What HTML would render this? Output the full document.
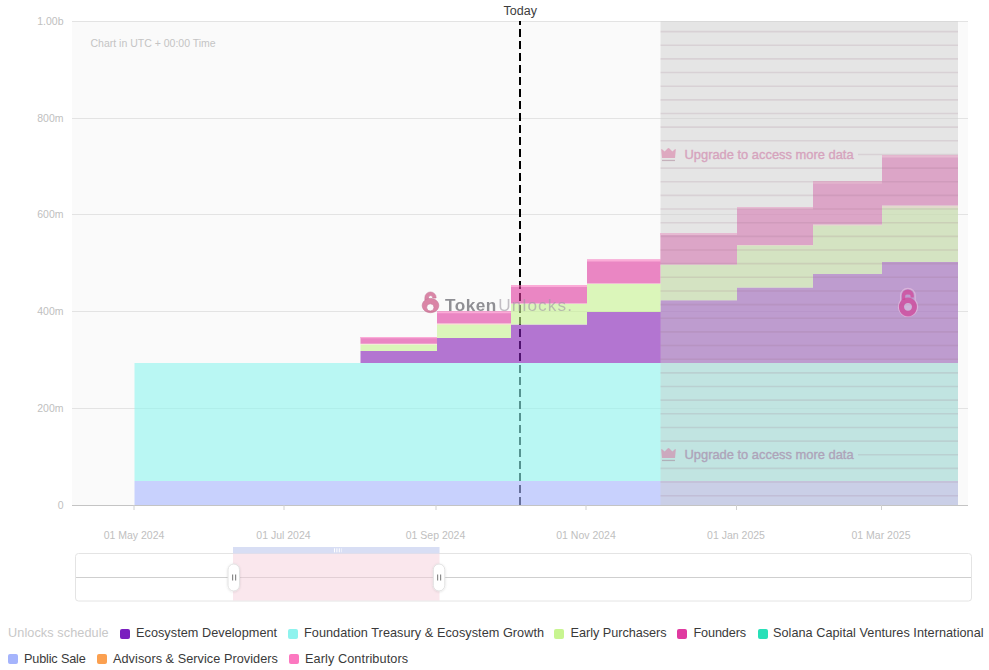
<!DOCTYPE html>
<html><head><meta charset="utf-8"><style>
html,body{margin:0;padding:0;background:#fff;width:989px;height:670px;overflow:hidden;font-family:"Liberation Sans",sans-serif;}
#c{position:absolute;left:0;top:0;}
.t{position:absolute;white-space:nowrap;line-height:1;}
.lg{position:absolute;white-space:nowrap;font-size:12.7px;color:#3a3a3a;line-height:1;}
.sw{position:absolute;width:10px;height:10px;border-radius:2px;}
</style></head><body>
<svg id="c" width="989" height="670" viewBox="0 0 989 670" font-family="Liberation Sans, sans-serif">
  <defs><filter id="hs" x="-50%" y="-30%" width="200%" height="160%"><feDropShadow dx="0" dy="0.5" stdDeviation="1.2" flood-color="#000" flood-opacity="0.13"/></filter></defs>
  <!-- plot bg -->
  <rect x="72" y="21" width="896" height="484" fill="#fafafa"/>
  <!-- gridlines -->
  <g stroke="#e3e3e3" stroke-width="1">
    <line x1="72" y1="21.5" x2="968" y2="21.5"/>
    <line x1="72" y1="118.5" x2="968" y2="118.5"/>
    <line x1="72" y1="214.5" x2="968" y2="214.5"/>
    <line x1="72" y1="311.5" x2="968" y2="311.5"/>
    <line x1="72" y1="408.5" x2="968" y2="408.5"/>
  </g>
  <!-- axis line -->
  <line x1="72" y1="505.5" x2="968" y2="505.5" stroke="#c4c4c4" stroke-width="1"/>
  <!-- today dashed line -->
  <line x1="520" y1="21" x2="520" y2="505" stroke="#000" stroke-width="2" stroke-dasharray="8 4" stroke-dashoffset="4"/>

  <!-- bars, opacity .6 -->
  <g opacity="0.6">
    <!-- public sale -->
    <rect x="134.5" y="481" width="823.5" height="24" fill="#a7b7ff"/>
    <!-- foundation -->
    <rect x="134.5" y="363" width="823.5" height="118" fill="#8ff6f0"/>
    <!-- ecosystem (purple) -->
    <path fill="#841db7" d="M360.5 363V351H437V338H511V324.5H587V312H660.5V300.2H737V287.5H813V274H882V262H958V363Z"/>
    <!-- early purchasers (green) -->
    <path fill="#c8f590" d="M360.5 351V344.5H437V325H511V304H587V284H660.5V265H737V246H813V226H882V208H958V262H882V274H813V287.5H737V300.2H660.5V312H587V324.5H511V338H437V351Z"/>
    <!-- advisors (peach) -->
    <path fill="#f3d6b0" d="M360.5 344.5V343.8H437V323.5H511V303.5H587V283.5H660.5V264.5H737V245H813V224.5H882V205.5H958V208H882V226H813V246H737V265H660.5V284H587V304H511V325H437V344.5Z"/>
    <!-- founders (pink) -->
    <path fill="#e03aa0" d="M360.5 343.8V337H437V311.3H511V285H587V259.5H660.5V233H737V207H813V181H882V155H958V205.5H882V224.5H813V245H737V264.5H660.5V283.5H587V303.5H511V323.5H437V343.8Z"/>
  <!-- early contributors -->
    <path fill="#fc78c0" d="M360.5 338.2V337H437V311.3H511V285H587V259.5H660.5V233H737V207H813V181H882V155H958V157.6H882V183.4H813V209.2H737V235H660.5V261.5H587V287H511V313.3H437V338.2H360.5Z"/>
  </g>

  <!-- watermark -->
  <g opacity="0.62">
    <g fill="#c73f74" fill-rule="evenodd" stroke="#a8285c" stroke-width="0.9" stroke-opacity="0.7">
      <path d="M424.9 300 V297.6 A5.6 5.6 0 0 1 436.1 297.6 V298 H432.8 V298 A2.2 2.4 0 0 0 428.4 298 V300 Z"/>
      <path d="M430.5 298.4 A8.3 7.15 0 1 1 430.49 298.4 Z M430.3 303.8 A3.6 3.6 0 1 0 430.31 303.8 Z"/>
    </g>
    <text x="445" y="310.6" font-size="17.2" font-weight="bold" letter-spacing="0.5" fill="#4e4e56">Token<tspan font-weight="normal" letter-spacing="1.1" fill="#a09aa4" dx="1.5">Unlocks.</tspan></text>
  </g>

  <!-- upgrade overlay -->
  <rect x="660.5" y="21" width="297.5" height="484" fill="rgb(205,203,203)" fill-opacity="0.45"/>
  <g id="hatch" stroke="rgb(150,105,128)" stroke-opacity="0.16" stroke-width="1.6">
<line x1="660.5" x2="958" y1="31.60" y2="31.60"/>
<line x1="660.5" x2="958" y1="45.25" y2="45.25"/>
<line x1="660.5" x2="958" y1="58.90" y2="58.90"/>
<line x1="660.5" x2="958" y1="72.55" y2="72.55"/>
<line x1="660.5" x2="958" y1="86.20" y2="86.20"/>
<line x1="660.5" x2="958" y1="99.85" y2="99.85"/>
<line x1="660.5" x2="958" y1="113.50" y2="113.50"/>
<line x1="660.5" x2="958" y1="127.15" y2="127.15"/>
<line x1="660.5" x2="958" y1="140.80" y2="140.80"/>
<line x1="858" x2="958" y1="154.45" y2="154.45"/>
<line x1="660.5" x2="958" y1="168.10" y2="168.10"/>
<line x1="660.5" x2="958" y1="181.75" y2="181.75"/>
<line x1="660.5" x2="958" y1="195.40" y2="195.40"/>
<line x1="660.5" x2="958" y1="209.05" y2="209.05"/>
<line x1="660.5" x2="958" y1="222.70" y2="222.70"/>
<line x1="660.5" x2="958" y1="236.35" y2="236.35"/>
<line x1="660.5" x2="958" y1="250.00" y2="250.00"/>
<line x1="660.5" x2="958" y1="263.65" y2="263.65"/>
<line x1="660.5" x2="958" y1="277.30" y2="277.30"/>
<line x1="660.5" x2="958" y1="290.95" y2="290.95"/>
<line x1="660.5" x2="958" y1="304.60" y2="304.60"/>
<line x1="660.5" x2="958" y1="318.25" y2="318.25"/>
<line x1="660.5" x2="958" y1="331.90" y2="331.90"/>
<line x1="660.5" x2="958" y1="345.55" y2="345.55"/>
<line x1="660.5" x2="958" y1="359.20" y2="359.20"/>
<line x1="660.5" x2="958" y1="372.85" y2="372.85"/>
<line x1="660.5" x2="958" y1="386.50" y2="386.50"/>
<line x1="660.5" x2="958" y1="400.15" y2="400.15"/>
<line x1="660.5" x2="958" y1="413.80" y2="413.80"/>
<line x1="660.5" x2="958" y1="427.45" y2="427.45"/>
<line x1="660.5" x2="958" y1="441.10" y2="441.10"/>
<line x1="858" x2="958" y1="454.75" y2="454.75"/>
<line x1="660.5" x2="958" y1="468.40" y2="468.40"/>
<line x1="660.5" x2="958" y1="482.05" y2="482.05"/>
<line x1="660.5" x2="958" y1="495.70" y2="495.70"/>
</g>

  <!-- right lock -->
  <g fill-rule="evenodd">
    <path fill="none" stroke="#ecc3e3" stroke-opacity="0.6" stroke-width="1.2" d="M900.6 300.5 V295.6 A7.3 7.3 0 0 1 915.2 295.6 V300.2 A9.6 9.8 0 1 1 900.6 300.5 Z"/>
    <g fill="#d0479a" fill-opacity="0.75">
      <path d="M901.8 300 V295.6 A6 6 0 0 1 913.8 295.6 V297.6 H910.6 V295.8 A2.6 1.3 0 0 0 905.2 295.8 V300 Z"/>
      <path d="M907.9 297.4 A9 9.5 0 1 1 907.89 297.4 Z M908 302.9 A4 3.9 0 1 0 908.01 302.9 Z"/>
    </g>
    <circle cx="908" cy="306.8" r="3.9" fill="#fff" fill-opacity="0.25"/>
  </g>

  <!-- upgrade labels -->
  <g fill="rgb(215,110,155)" fill-opacity="0.5">
    <path d="M661.2 149.6 Q661.5 148.6 662.4 149.4 L664.6 151.6 L667.6 148.4 Q668.5 147.6 669.4 148.4 L672.4 151.6 L674.6 149.4 Q675.5 148.6 675.8 149.6 L675 158 L662 158 Z"/>
    <path d="M661.2 449.6 Q661.5 448.6 662.4 449.4 L664.6 451.6 L667.6 448.4 Q668.5 447.6 669.4 448.4 L672.4 451.6 L674.6 449.4 Q675.5 448.6 675.8 449.6 L675 458 L662 458 Z"/>
  </g>
  <g fill="rgb(150,100,125)" fill-opacity="0.4">
    <rect x="662" y="159.8" width="13" height="1.3"/>
    <rect x="662" y="459.8" width="13" height="1.3"/>
  </g>
  <g font-size="12.9" letter-spacing="0" stroke-width="0.35">
    <text x="684.5" y="158.6" fill="#d6a3bd" stroke="#d6a3bd">Upgrade to access more data</text>
    <text x="684.5" y="458.6" fill="#aea3b9" stroke="#aea3b9">Upgrade to access more data</text>
  </g>

  <!-- x ticks -->
  <g stroke="#d0d0d0" stroke-width="1">
    <line x1="134" y1="505" x2="134" y2="510"/>
    <line x1="284" y1="505" x2="284" y2="510"/>
    <line x1="436" y1="505" x2="436" y2="510"/>
    <line x1="586" y1="505" x2="586" y2="510"/>
    <line x1="736.5" y1="505" x2="736.5" y2="510"/>
    <line x1="881.5" y1="505" x2="881.5" y2="510"/>
  </g>

  <!-- y labels -->
  <g font-size="10.5" fill="#c0c0c0" text-anchor="end">
    <text x="63.5" y="24.8">1.00b</text>
    <text x="63.5" y="121.8">800m</text>
    <text x="63.5" y="217.8">600m</text>
    <text x="63.5" y="314.8">400m</text>
    <text x="63.5" y="411.8">200m</text>
    <text x="63.5" y="508.8">0</text>
  </g>
  <!-- x labels -->
  <g font-size="10.5" fill="#c0c0c0" text-anchor="middle">
    <text x="134" y="539">01 May 2024</text>
    <text x="283.5" y="539">01 Jul 2024</text>
    <text x="435.5" y="539">01 Sep 2024</text>
    <text x="586" y="539">01 Nov 2024</text>
    <text x="736" y="539">01 Jan 2025</text>
    <text x="881" y="539">01 Mar 2025</text>
  </g>
  <text x="90.5" y="47.2" font-size="10.5" fill="#c4c4c4">Chart in UTC + 00:00 Time</text>
  <text x="520.3" y="15" font-size="12.5" fill="#3c3c3c" text-anchor="middle">Today</text>

  <!-- navigator -->
  <rect x="75.5" y="553.5" width="896" height="47.5" rx="3" fill="#fff" stroke="#e4e4e4"/>
  <line x1="76" y1="577.5" x2="971" y2="577.5" stroke="#cfcfcf" stroke-width="1"/>
  <rect x="233" y="553.5" width="206.5" height="47" fill="#f5cfdc" fill-opacity="0.5"/>
  <rect x="233" y="547" width="206.5" height="6.5" fill="#d8def4"/>
  <g fill="#fff"><rect x="334" y="548.3" width="1" height="4"/><rect x="336.4" y="548.3" width="1" height="4"/><rect x="338.8" y="548.3" width="1" height="4"/><rect x="341" y="548.3" width="0.8" height="4" fill-opacity="0.6"/></g>
  <g>
    <rect x="228" y="564" width="11.5" height="27" rx="5.75" fill="#fff" stroke="#e2e2e2" stroke-width="1" filter="url(#hs)"/>
    <rect x="232" y="574.5" width="1.2" height="6" fill="#8a8a8a"/><rect x="235" y="574.5" width="1.2" height="6" fill="#8a8a8a"/>
    <rect x="433.3" y="564" width="11.5" height="27" rx="5.75" fill="#fff" stroke="#e2e2e2" stroke-width="1" filter="url(#hs)"/>
    <rect x="437" y="574.5" width="1.2" height="6" fill="#8a8a8a"/><rect x="440" y="574.5" width="1.2" height="6" fill="#8a8a8a"/>
  </g>
</svg>

<!-- legend -->
<div class="t m" style="left:8px;top:627px;font-size:12.7px;color:#c8c8c8;letter-spacing:0.08px;">Unlocks schedule</div>
<div class="sw" style="left:120px;top:628.5px;background:#7a1fbf"></div>
<div class="lg m" style="left:136px;top:627px;letter-spacing:0.04px;">Ecosystem Development</div>
<div class="sw" style="left:288px;top:628.5px;background:#8ef3ee"></div>
<div class="lg m" style="left:304px;top:627px;letter-spacing:0.046px;">Foundation Treasury &amp; Ecosystem Growth</div>
<div class="sw" style="left:554px;top:628.5px;background:#c8f590"></div>
<div class="lg m" style="left:570.5px;top:627px;letter-spacing:-0.03px;">Early Purchasers</div>
<div class="sw" style="left:677px;top:628.5px;background:#e03aa0"></div>
<div class="lg m" style="left:693.5px;top:627px;letter-spacing:-0.14px;">Founders</div>
<div class="sw" style="left:757.5px;top:628.5px;background:#28e0b8"></div>
<div class="lg m" style="left:773px;top:627px;letter-spacing:0.03px;">Solana Capital Ventures International</div>

<div class="sw" style="left:8px;top:654.3px;background:#a5b4fc"></div>
<div class="lg m" style="left:24px;top:652.6px;letter-spacing:-0.17px;">Public Sale</div>
<div class="sw" style="left:97px;top:654.3px;background:#fba050"></div>
<div class="lg m" style="left:113px;top:652.6px;letter-spacing:0.05px;">Advisors &amp; Service Providers</div>
<div class="sw" style="left:289px;top:654.3px;background:#fc78c0"></div>
<div class="lg m" style="left:305px;top:652.6px;letter-spacing:0.09px;">Early Contributors</div>

</body></html>
